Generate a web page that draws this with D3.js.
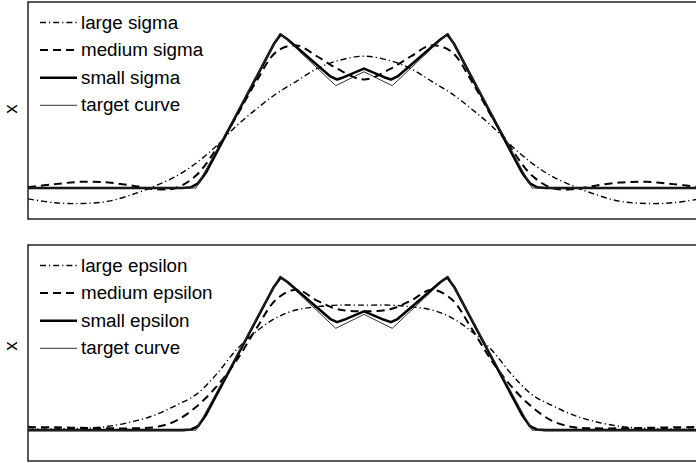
<!DOCTYPE html>
<html>
<head>
<meta charset="utf-8">
<script src="https://cdn.jsdelivr.net/npm/d3@7"></script>
<style>
  html, body { margin: 0; padding: 0; background: #fff; }
  text { font-family: "Liberation Sans", Arial, sans-serif; }
</style>
</head>
<body>
<div id="chart"></div>
<script>
const width = 696;
const height = 463;

// shared x grid for the smooth curves
const xs = [0, 4, 8, 12, 16, 19, 22, 25, 28, 31, 34, 37, 40, 43, 46, 50,
  54, 57, 60, 63, 66, 69, 72, 75, 78, 81, 84, 88, 92, 96, 100];

// top panel
const largeSigma = [-0.07, -0.095, -0.10, -0.085, -0.035, 0.015, 0.075, 0.16, 0.27, 0.40, 0.51, 0.61, 0.69, 0.77, 0.82, 0.85,
  0.82, 0.77, 0.69, 0.61, 0.51, 0.40, 0.27, 0.16, 0.075, 0.015, -0.035, -0.085, -0.10, -0.095, -0.07];
const mediumSigma = [0.005, 0.025, 0.04, 0.035, 0.012, -0.008, 0.0, 0.08, 0.25, 0.46, 0.69, 0.88, 0.92, 0.85, 0.77, 0.70,
  0.77, 0.85, 0.92, 0.88, 0.69, 0.46, 0.25, 0.08, 0.0, -0.008, 0.012, 0.035, 0.04, 0.025, 0.005];

// bottom panel
const largeEps = [0.005, 0.008, 0.012, 0.025, 0.06, 0.10, 0.16, 0.23, 0.36, 0.52, 0.64, 0.73, 0.78, 0.80, 0.81, 0.81,
  0.81, 0.80, 0.78, 0.73, 0.64, 0.52, 0.36, 0.23, 0.16, 0.10, 0.06, 0.025, 0.012, 0.008, 0.005];
const mediumEps = [0.02, 0.018, 0.015, 0.012, 0.012, 0.02, 0.06, 0.15, 0.28, 0.45, 0.66, 0.85, 0.91, 0.84, 0.785, 0.77,
  0.785, 0.84, 0.91, 0.85, 0.66, 0.45, 0.28, 0.15, 0.06, 0.02, 0.012, 0.012, 0.015, 0.018, 0.02];

// small sigma / epsilon follow the target closely
const smallX = [0, 23, 24.3, 25.3, 26.5, 36.6, 37.6, 38.6, 45, 46, 47, 50, 53, 54, 55, 61.4, 62.4, 63.4, 73.5, 74.7, 75.7, 77, 100];
const smallSigma = [0, 0, 0.005, 0.03, 0.10, 0.93, 0.99, 0.96, 0.72, 0.70, 0.715, 0.77, 0.715, 0.70, 0.72, 0.96, 0.99, 0.93, 0.10, 0.03, 0.005, 0, 0];
const smallEps = [0, 0, 0.004, 0.025, 0.10, 0.93, 0.99, 0.96, 0.72, 0.70, 0.715, 0.77, 0.715, 0.70, 0.72, 0.96, 0.99, 0.93, 0.10, 0.025, 0.004, 0, 0];

const targetX = [0, 25, 37.5, 45.8, 50, 54.2, 62.5, 75, 100];
const targetY = [0, 0, 1, 0.66, 0.75, 0.66, 1, 0, 0];

const styles = {
  large:  { width: 1.4, dash: "6,3,1.2,3", color: "#000" },
  medium: { width: 2, dash: "8,5", color: "#000" },
  small:  { width: 2.6, dash: null, color: "#000" },
  target: { width: 1, dash: null, color: "#333" }
};

const panels = [
  { top: 2, bottom: 219, labelY: 109, series: [
    { name: "large sigma", style: "large", x: xs, y: largeSigma, smooth: true },
    { name: "medium sigma", style: "medium", x: xs, y: mediumSigma, smooth: true },
    { name: "small sigma", style: "small", x: smallX, y: smallSigma, smooth: false },
    { name: "target curve", style: "target", x: targetX, y: targetY, smooth: false }
  ]},
  { top: 245, bottom: 461, labelY: 346, series: [
    { name: "large epsilon", style: "large", x: xs, y: largeEps, smooth: true },
    { name: "medium epsilon", style: "medium", x: xs, y: mediumEps, smooth: true },
    { name: "small epsilon", style: "small", x: smallX, y: smallEps, smooth: false },
    { name: "target curve", style: "target", x: targetX, y: targetY, smooth: false }
  ]}
];

const left = 28, right = 700;

const svg = d3.select("#chart")
  .append("svg")
  .attr("width", width)
  .attr("height", height);

const x = d3.scaleLinear().domain([0, 100]).range([left, right]);

panels.forEach(function(p, i) {
  const y = d3.scaleLinear().domain([-0.2, 1.2]).range([p.bottom, p.top]);

  svg.append("clipPath")
    .attr("id", "clip" + i)
    .append("rect")
    .attr("x", left).attr("y", p.top)
    .attr("width", right - left).attr("height", p.bottom - p.top);

  const g = svg.append("g").attr("clip-path", "url(#clip" + i + ")");

  p.series.forEach(function(s) {
    const st = styles[s.style];
    const pts = s.x.map((v, k) => [v, s.y[k]]);
    const line = d3.line()
      .x(d => x(d[0]))
      .y(d => y(d[1]))
      .curve(s.smooth ? d3.curveCatmullRom : d3.curveLinear);
    g.append("path")
      .attr("d", line(pts))
      .attr("fill", "none")
      .attr("stroke", st.color)
      .attr("stroke-width", st.width)
      .attr("stroke-dasharray", st.dash)
      .attr("stroke-linejoin", "round");
  });

  // frame
  svg.append("rect")
    .attr("x", left).attr("y", p.top)
    .attr("width", right - left).attr("height", p.bottom - p.top)
    .attr("fill", "none")
    .attr("stroke", "#222")
    .attr("stroke-width", 1.5);

  // legend
  const lg = svg.append("g");
  p.series.forEach(function(s, k) {
    const st = styles[s.style];
    const ry = p.top + 20.5 + k * 27.6;
    lg.append("line")
      .attr("x1", 40).attr("x2", 77)
      .attr("y1", ry).attr("y2", ry)
      .attr("stroke", st.color)
      .attr("stroke-width", st.width)
      .attr("stroke-dasharray", st.dash);
    lg.append("text")
      .attr("x", 81).attr("y", ry + 6)
      .attr("font-size", 18.8)
      .attr("fill", "#000")
      .text(s.name);
  });

  svg.append("text")
    .attr("transform", "translate(17," + p.labelY + ") rotate(-90)")
    .attr("text-anchor", "middle")
    .attr("font-size", 18.8)
    .text("x");
});
</script>
</body>
</html>
